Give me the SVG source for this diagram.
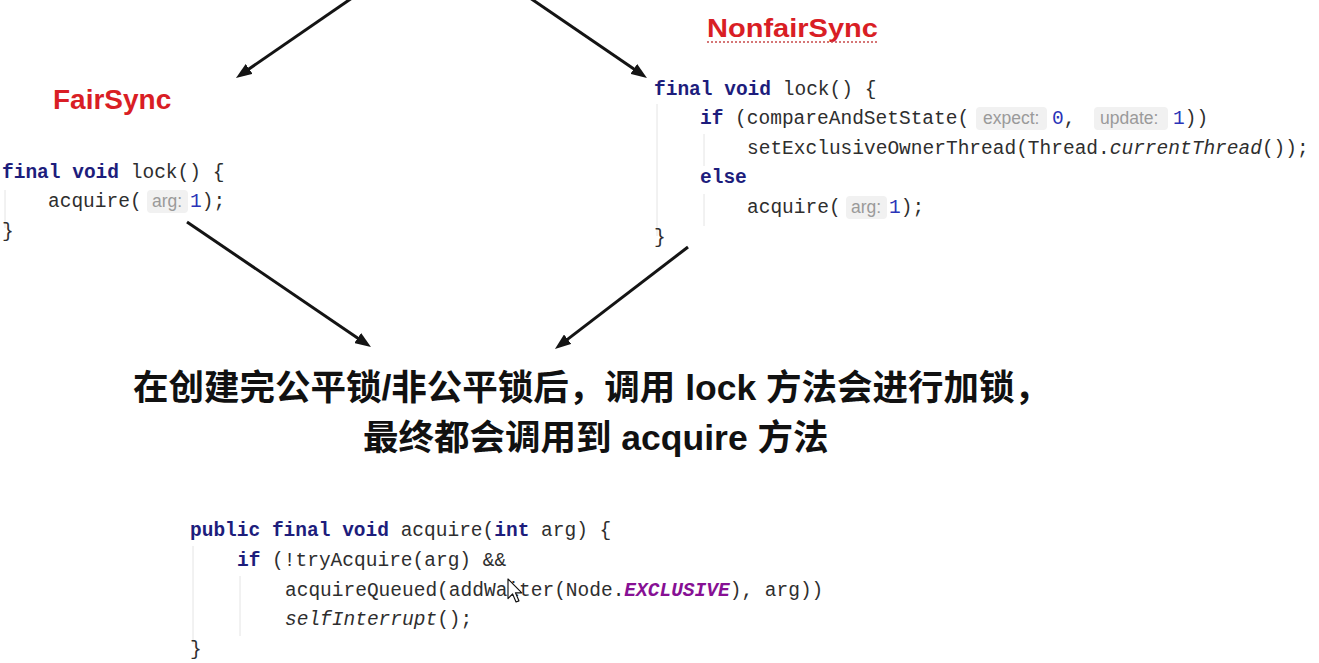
<svg xmlns="http://www.w3.org/2000/svg" width="1319" height="663" viewBox="0 0 1319 663">
  <style>
    .title { font-family: "Liberation Sans", Arial, sans-serif; font-weight: bold; fill: #d91e25; }
    .code { font-family: "Liberation Mono", "Courier New", monospace; font-size: 19.5px; fill: #2e2e2e; }
    .kw { font-weight: bold; fill: #1d1d7c; }
    .num { fill: #2a33b8; }
    .it { font-style: italic; }
    .const { font-weight: bold; font-style: italic; fill: #871094; }
    .hint { font-family: "Liberation Sans", Arial, sans-serif; font-size: 17.5px; fill: #9a9a9a; }
    .hintbox { fill: #f1f1f1; }
    .guide { stroke: #e4e4e4; stroke-width: 1; }
    .note { font-family: "Liberation Sans", "Noto Sans CJK SC", sans-serif; font-size: 35.5px; font-weight: bold; fill: #111; }
    .arrow { stroke: #141414; stroke-width: 3; fill: none; marker-end: url(#head); }
  </style>
  <defs>
    <marker id="head" viewBox="0 0 16 12" refX="6" refY="6" markerWidth="16" markerHeight="12" markerUnits="userSpaceOnUse" orient="auto">
      <path d="M0,0 L16,6 L0,12 z" fill="#141414"/>
    </marker>
  </defs>

  <rect width="1319" height="663" fill="#ffffff"/>

  <!-- connectors -->
  <g id="connectors">
    <line class="arrow" x1="352" y1="-2" x2="244.2" y2="72.3"/>
    <line class="arrow" x1="530" y1="-2" x2="638.7" y2="72.3"/>
    <line class="arrow" x1="187" y1="222" x2="362.7" y2="341.4"/>
    <line class="arrow" x1="688" y1="247" x2="562.9" y2="342.9"/>
  </g>

  <!-- FairSync.lock -->
  <g id="fair-sync">
    <text class="title" x="53" y="109" font-size="28">FairSync</text>
    <line class="guide" x1="5" y1="190" x2="5" y2="228"/>
    <text class="code" x="2" y="178"><tspan class="kw">final</tspan> <tspan class="kw">void</tspan> lock() {</text>
    <text class="code" x="48" y="207">acquire(</text>
    <rect class="hintbox" x="147" y="190" width="41" height="23" rx="4"/>
    <text class="hint" x="152" y="207">arg:</text>
    <text class="code" x="190" y="207"><tspan class="num">1</tspan>);</text>
    <text class="code" x="2" y="237">}</text>
  </g>

  <!-- NonfairSync.lock -->
  <g id="nonfair-sync">
    <text class="title" x="707" y="37" font-size="26" textLength="171" lengthAdjust="spacingAndGlyphs">NonfairSync</text>
    <line x1="707" y1="42" x2="878" y2="42" stroke="#c84a4a" stroke-width="1.5" stroke-dasharray="2 2"/>
    <line class="guide" x1="657" y1="104" x2="657" y2="236"/>
    <line class="guide" x1="704" y1="134" x2="704" y2="166"/>
    <line class="guide" x1="704" y1="194" x2="704" y2="226"/>
    <text class="code" x="654" y="95"><tspan class="kw">final</tspan> <tspan class="kw">void</tspan> lock() {</text>
    <text class="code" x="700" y="124"><tspan class="kw">if</tspan> (compareAndSetState(</text>
    <rect class="hintbox" x="976" y="107" width="71" height="23" rx="4"/>
    <text class="hint" x="983" y="124">expect:</text>
    <text class="code" x="1052" y="124"><tspan class="num">0</tspan>,</text>
    <rect class="hintbox" x="1094" y="107" width="74" height="23" rx="4"/>
    <text class="hint" x="1100" y="124">update:</text>
    <text class="code" x="1173" y="124"><tspan class="num">1</tspan>))</text>
    <text class="code" x="747" y="154">setExclusiveOwnerThread(Thread.<tspan class="it">currentThread</tspan>());</text>
    <text class="code" x="700" y="183"><tspan class="kw">else</tspan></text>
    <text class="code" x="747" y="213">acquire(</text>
    <rect class="hintbox" x="846" y="196" width="41" height="23" rx="4"/>
    <text class="hint" x="851" y="213">arg:</text>
    <text class="code" x="889" y="213"><tspan class="num">1</tspan>);</text>
    <text class="code" x="654" y="243">}</text>
  </g>

  <!-- summary note -->
  <g id="summary">
    <text class="note" x="133" y="400">在创建完公平锁/非公平锁后，调用 lock 方法会进行加锁，</text>
    <text class="note" x="363" y="450">最终都会调用到 acquire 方法</text>
  </g>

  <!-- AQS.acquire -->
  <g id="aqs-acquire">
    <line class="guide" x1="193" y1="546" x2="193" y2="644"/>
    <line class="guide" x1="240" y1="576" x2="240" y2="636"/>
    <text class="code" x="190" y="536"><tspan class="kw">public</tspan> <tspan class="kw">final</tspan> <tspan class="kw">void</tspan> acquire(<tspan class="kw">int</tspan> arg) {</text>
    <text class="code" x="237" y="566"><tspan class="kw">if</tspan> (!tryAcquire(arg) &amp;&amp;</text>
    <text class="code" x="285" y="596">acquireQueued(addWaiter(Node.<tspan class="const">EXCLUSIVE</tspan>), arg))</text>
    <text class="code" x="285" y="625"><tspan class="it">selfInterrupt</tspan>();</text>
    <text class="code" x="190" y="655">}</text>
  </g>

  <!-- mouse pointer -->
  <g id="pointer" transform="translate(508,579) scale(1.15)">
    <path d="M0,0 L0,17 L4,13 L7,20 L9.5,19 L6.5,12 L12,12 Z" fill="#ffffff" stroke="#111" stroke-width="1" stroke-linejoin="round"/>
  </g>
</svg>
